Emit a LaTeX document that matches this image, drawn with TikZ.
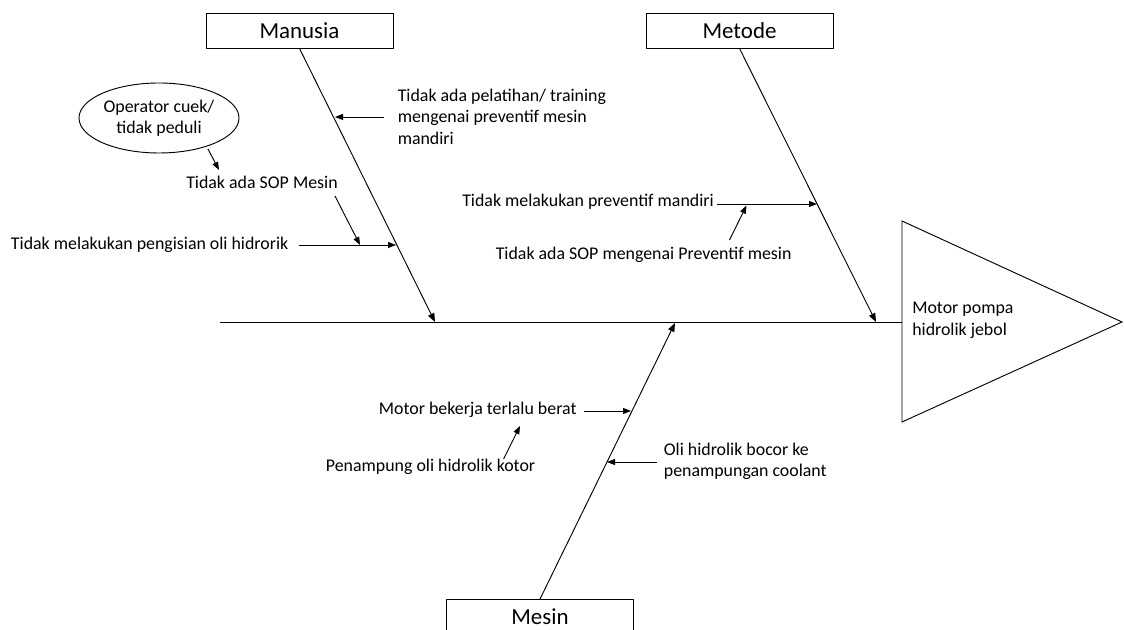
\documentclass[tikz,border=0pt]{standalone}
\usepackage{fontspec}
\setmainfont{Carlito}
\usetikzlibrary{arrows.meta,shapes.geometric}
\tikzset{
  txt/.style={inner sep=0pt, font=\fontsize{13.4}{16.1}\selectfont, align=left},
  titlebox/.style={draw, line width=0.7pt, minimum width=140.25pt, minimum height=26.25pt, inner sep=0pt, font=\fontsize{17.2}{20}\selectfont},
  bone/.style={line width=0.7pt, -{Triangle[length=6.5pt,width=5pt]}},
  arr/.style={line width=0.7pt, -{Triangle[length=6pt,width=4.5pt]}},
}
\begin{document}
\begin{tikzpicture}[x=0.75pt,y=-0.75pt]
\useasboundingbox (0,0) rectangle (1124,630);
\clip (0,0) rectangle (1124,630);
% title boxes
\node[titlebox] (man) at (299.5,30.5) {Manusia};
\node[titlebox] (met) at (739.5,30.5) {Metode};
\node[titlebox, anchor=north] (mes) at (540,599) {\raisebox{-9pt}{Mesin}};
% head
\node[txt, anchor=west] (head) at (912,320.5) {Motor pompa\\hidrolik jebol};
\draw[line width=0.7pt] (902,221) coordinate (tA) -- (1122,322) coordinate (tB) -- (902,422) coordinate (tC) -- cycle;
\coordinate (tL) at (902,322);
% spine
\coordinate (spL) at (220,322);
\draw[line width=0.7pt] (spL) -- (tL);
% bones
\coordinate (manTip) at (435,322);
\coordinate (metTip) at (876,322);
\coordinate (mesTip) at (675,323);
\draw[bone] (man.south) -- (manTip);
\draw[bone] (met.south) -- (metTip);
\draw[bone] (mes.north) -- (mesTip);
% Manusia causes
\node[draw, ellipse, line width=0.7pt, minimum width=120pt, minimum height=52.5pt, inner sep=0pt, font=\fontsize{13.4}{16.1}\selectfont, align=center] (op) at (159,118) {Operator cuek/\\tidak peduli};
\node[txt, anchor=west] (sopm) at (186,182) {Tidak ada SOP Mesin};
\node[txt, anchor=west] (isi) at (10.7,245) {Tidak melakukan pengisian oli hidrorik};
\node[txt, anchor=west] (pel) at (397.5,116.5) {Tidak ada pelatihan/ training\\mengenai preventif mesin\\mandiri};
\coordinate (opS) at (208,149);
\coordinate (opT) at (219,170);
\draw[arr] (opS) -- (opT);
\coordinate (sopS) at (335,196);
\coordinate (sopT) at (360,245);
\draw[arr] (sopS) -- (sopT);
\coordinate (isiS) at (299,245);
\coordinate (isiT) at (396,245);
\draw[arr] (isiS) -- (isiT);
\coordinate (pelS) at (384,117);
\coordinate (pelT) at (335,117);
\draw[arr] (pelS) -- (pelT);
% Metode causes
\node[txt, anchor=west] (prev) at (462,202) {Tidak melakukan preventif mandiri};
\node[txt, anchor=west] (sopp) at (495.5,255) {Tidak ada SOP mengenai Preventif mesin};
\coordinate (prevS) at (717,204);
\coordinate (prevT) at (817,204);
\draw[arr] (prevS) -- (prevT);
\coordinate (soppS) at (729.5,240);
\coordinate (soppT) at (746.5,205.5);
\draw[arr] (soppS) -- (soppT);
% Mesin causes
\node[txt, anchor=west] (berat) at (378.6,410) {Motor bekerja terlalu berat};
\node[txt, anchor=west] (kotor) at (325.7,467) {Penampung oli hidrolik kotor};
\node[txt, anchor=west] (bocor) at (663.6,461.5) {Oli hidrolik bocor ke\\penampungan coolant};
\coordinate (beratS) at (584,411);
\coordinate (beratT) at (631,411);
\draw[arr] (beratS) -- (beratT);
\coordinate (kotorS) at (503.6,459);
\coordinate (kotorT) at (520,426);
\draw[arr] (kotorS) -- (kotorT);
\coordinate (bocorS) at (657,462);
\coordinate (bocorT) at (607,462);
\draw[arr] (bocorS) -- (bocorT);
\end{tikzpicture}
\end{document}
